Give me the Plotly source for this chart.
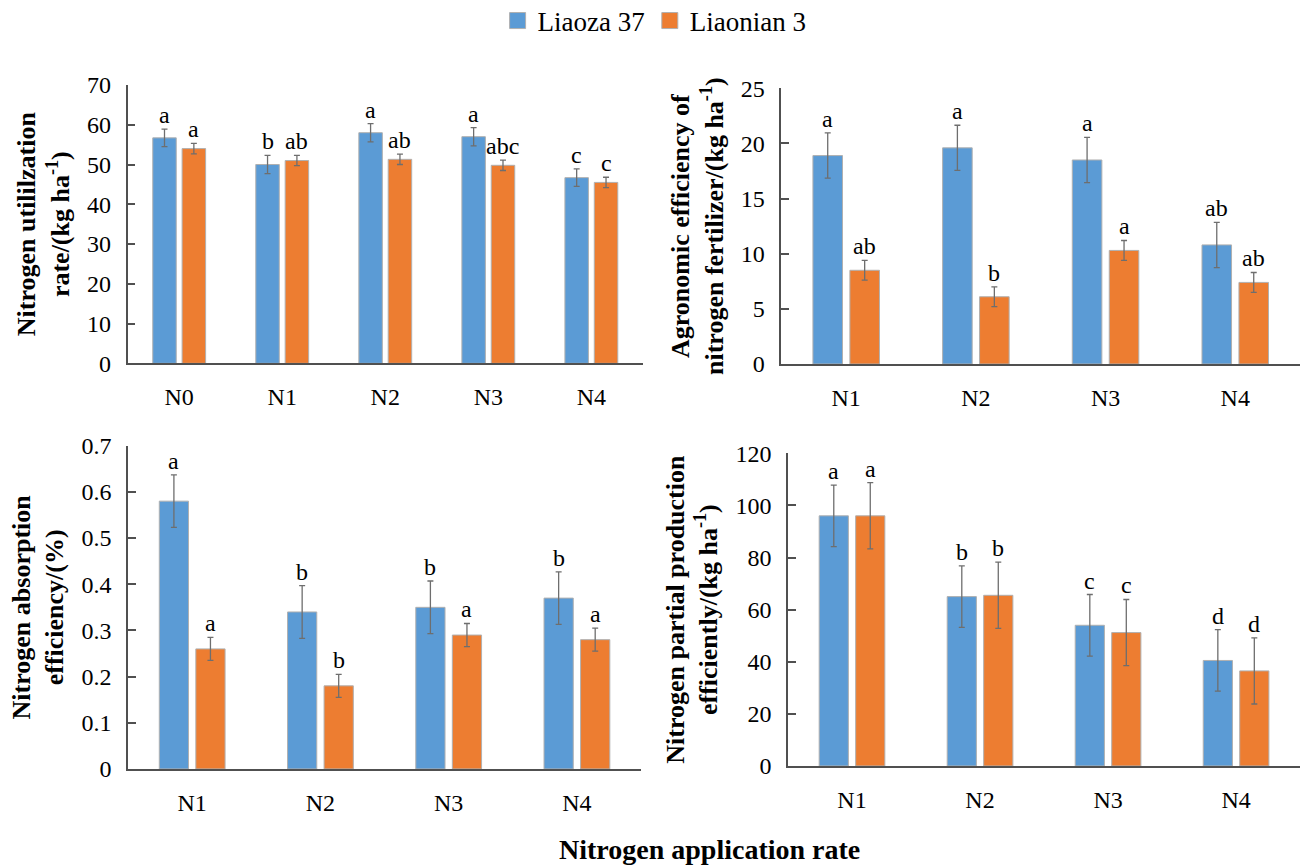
import plotly.graph_objects as go

# ---- data ----
cats_p1 = ["N0", "N1", "N2", "N3", "N4"]
cats = ["N1", "N2", "N3", "N4"]

p1_liaoza = [56.7, 50.0, 58.0, 57.0, 46.7]
p1_liaoza_err = [2.2, 2.3, 2.3, 2.3, 2.2]
p1_liaonian = [54.0, 51.0, 51.3, 49.8, 45.5]
p1_liaonian_err = [1.3, 1.3, 1.3, 1.3, 1.3]
p1_letters_a = ["a", "b", "a", "a", "c"]
p1_letters_b = ["a", "ab", "ab", "abc", "c"]

p2_liaoza = [18.9, 19.6, 18.5, 10.8]
p2_liaoza_err = [2.05, 2.05, 2.05, 2.05]
p2_liaonian = [8.5, 6.1, 10.3, 7.4]
p2_liaonian_err = [0.9, 0.9, 0.9, 0.9]
p2_letters_a = ["a", "a", "a", "ab"]
p2_letters_b = ["ab", "b", "a", "ab"]

p3_liaoza = [0.58, 0.34, 0.35, 0.37]
p3_liaoza_err = [0.057, 0.057, 0.057, 0.057]
p3_liaonian = [0.26, 0.18, 0.29, 0.28]
p3_liaonian_err = [0.025, 0.025, 0.025, 0.025]
p3_letters_a = ["a", "b", "b", "b"]
p3_letters_b = ["a", "b", "a", "a"]

p4_liaoza = [96.0, 65.0, 54.0, 40.5]
p4_liaoza_err = [11.8, 11.8, 11.8, 11.8]
p4_liaonian = [96.0, 65.5, 51.2, 36.5]
p4_liaonian_err = [12.7, 12.7, 12.7, 12.7]
p4_letters_a = ["a", "b", "c", "d"]
p4_letters_b = ["a", "b", "c", "d"]

series_names = ["Liaoza 37", "Liaonian 3"]
colors = ["#5B9BD5", "#ED7D31"]

FONT = "Liberation Serif, Times New Roman, serif"
BARGAP = 0.43
BARGROUPGAP = 0.2
AXIS_COLOR = "#505050"
H = 868

fig = go.Figure()

panels = [
    dict(cats=cats_p1, a=p1_liaoza, ae=p1_liaoza_err, b=p1_liaonian, be=p1_liaonian_err,
         la=p1_letters_a, lb=p1_letters_b, ax="", rng=[0, 70], dt=10,
         title="Nitrogen utililzation<br>rate/(kg ha<sup>-1</sup>)",
         xd=[0.0979, 0.493], yd=[0.5814, 0.9021], tickfmt=None),
    dict(cats=cats, a=p2_liaoza, ae=p2_liaoza_err, b=p2_liaonian, be=p2_liaonian_err,
         la=p2_letters_a, lb=p2_letters_b, ax="2", rng=[0, 25], dt=5,
         title="Agronomic efficiency of<br>nitrogen fertilizer/(kg ha<sup>-1</sup>)",
         xd=[0.5992, 0.997], yd=[0.5806, 0.8983], tickfmt=None),
    dict(cats=cats, a=p3_liaoza, ae=p3_liaoza_err, b=p3_liaonian, be=p3_liaonian_err,
         la=p3_letters_a, lb=p3_letters_b, ax="3", rng=[0, 0.7], dt=0.1,
         title="Nitrogen absorption<br>efficiency/(%)",
         xd=[0.0982, 0.4916], yd=[0.1141, 0.4865], tickfmt=".1~f"),
    dict(cats=cats, a=p4_liaoza, ae=p4_liaoza_err, b=p4_liaonian, be=p4_liaonian_err,
         la=p4_letters_a, lb=p4_letters_b, ax="4", rng=[0, 120], dt=20,
         title="Nitrogen partial production<br>efficiently/(kg ha<sup>-1</sup>)",
         xd=[0.6043, 0.997], yd=[0.1175, 0.4778], tickfmt=None),
]

annotations = []
slot = (1 - BARGAP) / 2
for pi, p in enumerate(panels):
    xa = "x" + p["ax"]
    ya = "y" + p["ax"]
    for si, (vals, errs, letters) in enumerate([(p["a"], p["ae"], p["la"]), (p["b"], p["be"], p["lb"])]):
        fig.add_trace(go.Bar(
            x=p["cats"], y=vals, name=series_names[si],
            marker=dict(color=colors[si], line=dict(color="#B0B0B0", width=1)),
            error_y=dict(type="data", array=errs, visible=True, color="#6E6E6E",
                         thickness=1.3, width=3),
            xaxis=xa, yaxis=ya, showlegend=False,
        ))
        off = (-0.5 + si) * slot
        for i, (v, e, t) in enumerate(zip(vals, errs, letters)):
            annotations.append(dict(
                x=i + off, y=v + e, xref=xa, yref=ya, text=t, showarrow=False,
                yanchor="bottom", xanchor="center", yshift=-1,
                font=dict(family=FONT, size=24, color="#000000"),
            ))

# legend entries (large square swatches)
for si in range(2):
    fig.add_trace(go.Scatter(
        x=[None], y=[None], mode="markers", name=series_names[si],
        marker=dict(symbol="square", size=16, color=colors[si],
                    line=dict(color="#B0B0B0", width=1)),
        showlegend=True, hoverinfo="skip", xaxis="x5", yaxis="y5",
    ))

annotations.append(dict(
    x=0.544, y=1 - 849 / H, xref="paper", yref="paper", text="<b>Nitrogen application rate</b>",
    showarrow=False, xanchor="center", yanchor="middle",
    font=dict(family=FONT, size=28, color="#000000"),
))

layout = dict(
    width=1304, height=H,
    margin=dict(l=0, r=0, t=0, b=0, autoexpand=False),
    paper_bgcolor="white", plot_bgcolor="white",
    barmode="group", bargap=BARGAP, bargroupgap=BARGROUPGAP,
    font=dict(family=FONT, size=24, color="#000000"),
    legend=dict(orientation="h", x=0.502, xanchor="center", y=1 - 21 / H, yanchor="middle",
                font=dict(family=FONT, size=27, color="#000000"),
                itemwidth=30, traceorder="normal", tracegroupgap=0,
                bgcolor="rgba(0,0,0,0)"),
    annotations=annotations,
    showlegend=True,
)

layout["xaxis5"] = dict(visible=False, domain=[0, 0.01], anchor="y5")
layout["yaxis5"] = dict(visible=False, domain=[0.99, 1], anchor="x5")

for p in panels:
    layout["xaxis" + p["ax"]] = dict(
        domain=p["xd"], anchor="y" + p["ax"], type="category",
        showline=True, linecolor=AXIS_COLOR, linewidth=1.5,
        ticks="", showgrid=False, zeroline=False,
        tickfont=dict(family=FONT, size=24, color="#000000"),
        ticklabelstandoff=11, automargin=False,
    )
    ya = dict(
        domain=p["yd"], anchor="x" + p["ax"], range=p["rng"], dtick=p["dt"],
        showline=True, linecolor=AXIS_COLOR, linewidth=1.5,
        ticks="inside", ticklen=8, tickcolor=AXIS_COLOR, tickwidth=1.5,
        showgrid=False, zeroline=False, automargin=False,
        tickfont=dict(family=FONT, size=24, color="#000000"),
        ticklabelstandoff=10,
        title=dict(text="<b>" + p["title"] + "</b>",
                   font=dict(family=FONT, size=26, color="#000000"), standoff=10),
    )
    if p["tickfmt"]:
        ya["tickformat"] = p["tickfmt"]
    layout["yaxis" + p["ax"]] = ya

fig.update_layout(**layout)
fig.write_html("out.html")
